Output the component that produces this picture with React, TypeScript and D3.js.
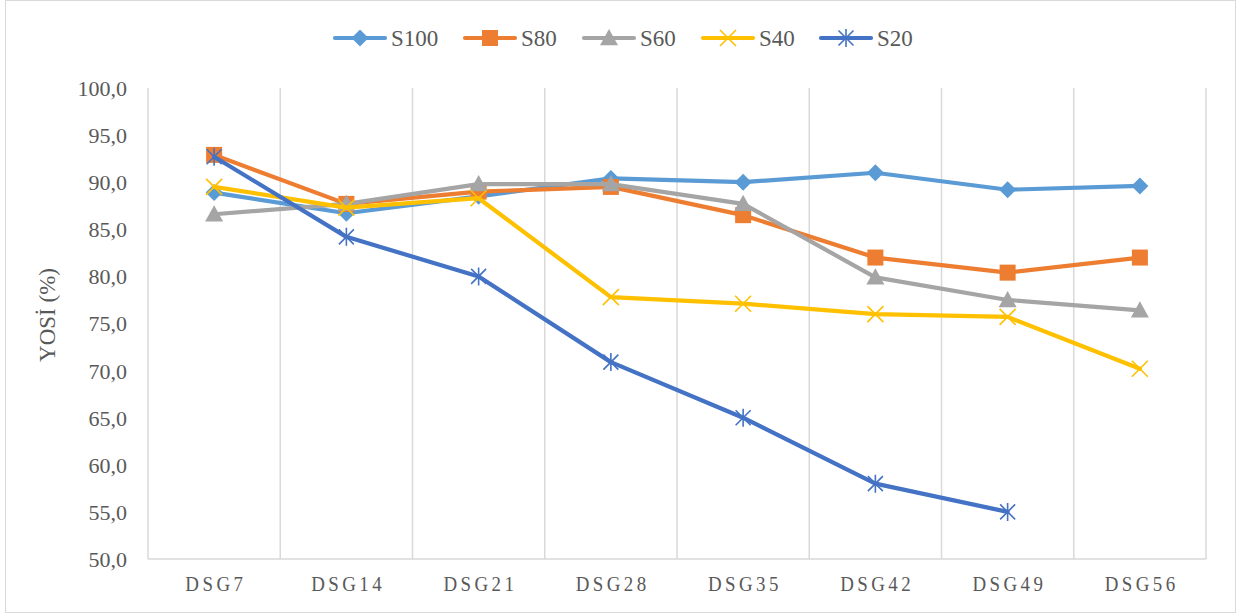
import React from "react";
import * as d3 from "d3";

const categories = ["DSG7", "DSG14", "DSG21", "DSG28", "DSG35", "DSG42", "DSG49", "DSG56"];
const s100 = [88.9, 86.7, 88.5, 90.4, 90.0, 91.0, 89.2, 89.6];
const s80 = [92.9, 87.7, 89.0, 89.5, 86.5, 82.0, 80.4, 82.0];
const s60 = [86.6, 87.7, 89.8, 89.8, 87.7, 79.9, 77.5, 76.4];
const s40 = [89.5, 87.3, 88.3, 77.8, 77.1, 76.0, 75.7, 70.2];
const s20: (number | null)[] = [92.7, 84.2, 80.0, 70.9, 65.0, 58.0, 55.0, null];
const yTicks = [50, 55, 60, 65, 70, 75, 80, 85, 90, 95, 100];

type Series = { name: string; values: (number | null)[]; color: string; marker: string };
const series: Series[] = [
  { name: "S100", values: s100, color: "#5B9BD5", marker: "diamond" },
  { name: "S80", values: s80, color: "#ED7D31", marker: "square" },
  { name: "S60", values: s60, color: "#A5A5A5", marker: "triangle" },
  { name: "S40", values: s40, color: "#FFC000", marker: "x" },
  { name: "S20", values: s20, color: "#4472C4", marker: "star" },
];

const W = 1237, H = 614;
const left = 148, right = 1206, top = 88, bottom = 559;
const FONT = "Liberation Serif";

function Marker({ kind, x, y, color }: { kind: string; x: number; y: number; color: string }) {
  if (kind === "diamond") {
    const r = 8.5;
    return <path d={`M${x},${y - r}L${x + r},${y}L${x},${y + r}L${x - r},${y}Z`} fill={color} />;
  }
  if (kind === "square") {
    const r = 8;
    return <rect x={x - r} y={y - r} width={2 * r} height={2 * r} fill={color} />;
  }
  if (kind === "triangle") {
    const r = 9;
    return <path d={`M${x},${y - r}L${x + r},${y + r * 0.8}L${x - r},${y + r * 0.8}Z`} fill={color} />;
  }
  if (kind === "x") {
    const r = 8;
    return (
      <path d={`M${x - r},${y - r}L${x + r},${y + r}M${x - r},${y + r}L${x + r},${y - r}`} stroke={color} strokeWidth={1.6} />
    );
  }
  const r = 7.5;
  return (
    <path
      d={`M${x - r},${y - r}L${x + r},${y + r}M${x - r},${y + r}L${x + r},${y - r}M${x},${y - r - 1.5}L${x},${y + r + 1.5}`}
      stroke={color}
      strokeWidth={1.6}
    />
  );
}

export default function App() {
  const x = d3.scaleBand<string>().domain(categories).range([left, right]);
  const y = d3.scaleLinear().domain([50, 100]).range([bottom, top]);
  const cx = (c: string) => (x(c) as number) + x.bandwidth() / 2;
  const line = d3
    .line<{ c: string; v: number | null }>()
    .defined((d) => d.v !== null)
    .x((d) => cx(d.c))
    .y((d) => y(d.v as number));

  const legendX = [333, 463, 582, 701, 819];

  return (
    <svg width={W} height={H} style={{ position: "absolute", left: 0, top: 0 }}>
      <rect x={5.5} y={0.5} width={1230} height={612} fill="white" stroke="#D9D9D9" />
      {categories.map((c) => (
        <line key={c} x1={(x(c) as number) + x.bandwidth()} x2={(x(c) as number) + x.bandwidth()} y1={top} y2={bottom} stroke="#D9D9D9" strokeWidth={1.5} />
      ))}
      <line x1={left} x2={left} y1={top} y2={bottom} stroke="#D9D9D9" strokeWidth={1.5} />
      <line x1={left} x2={right} y1={bottom} y2={bottom} stroke="#D9D9D9" strokeWidth={1.5} />
      {yTicks.map((t) => (
        <text key={t} fontFamily={FONT} x={127} y={y(t)} dy="0.36em" textAnchor="end" fontSize={22} fill="#595959">
          {t.toFixed(1).replace(".", ",")}
        </text>
      ))}
      {categories.map((c) => (
        <g key={c} transform={`translate(${cx(c)},591) scale(0.86,1)`}>
          <text fontFamily={FONT} x={2} y={0} textAnchor="middle" fontSize={22} letterSpacing={4} fill="#595959">
            {c}
          </text>
        </g>
      ))}
      <text fontFamily={FONT} transform={`translate(55,315) rotate(-90)`} textAnchor="middle" fontSize={23} fill="#595959">
        YOSİ (%)
      </text>
      {series.map((s) => {
        const pts = categories.map((c, i) => ({ c, v: s.values[i] }));
        return (
          <g key={s.name}>
            <path d={line(pts) || ""} fill="none" stroke={s.color} strokeWidth={4.2} strokeLinejoin="round" strokeLinecap="round" />
            {pts.filter((p) => p.v !== null).map((p) => (
              <Marker key={p.c} kind={s.marker} x={cx(p.c)} y={y(p.v as number)} color={s.color} />
            ))}
          </g>
        );
      })}
      {series.map((s, i) => (
        <g key={s.name}>
          <line x1={legendX[i] + 2} x2={legendX[i] + 52} y1={38} y2={38} stroke={s.color} strokeWidth={4.2} strokeLinecap="round" />
          <Marker kind={s.marker} x={legendX[i] + 27} y={38} color={s.color} />
          <text fontFamily={FONT} x={legendX[i] + 58} y={38} dy="0.35em" fontSize={23} fill="#595959">
            {s.name}
          </text>
        </g>
      ))}
    </svg>
  );
}
